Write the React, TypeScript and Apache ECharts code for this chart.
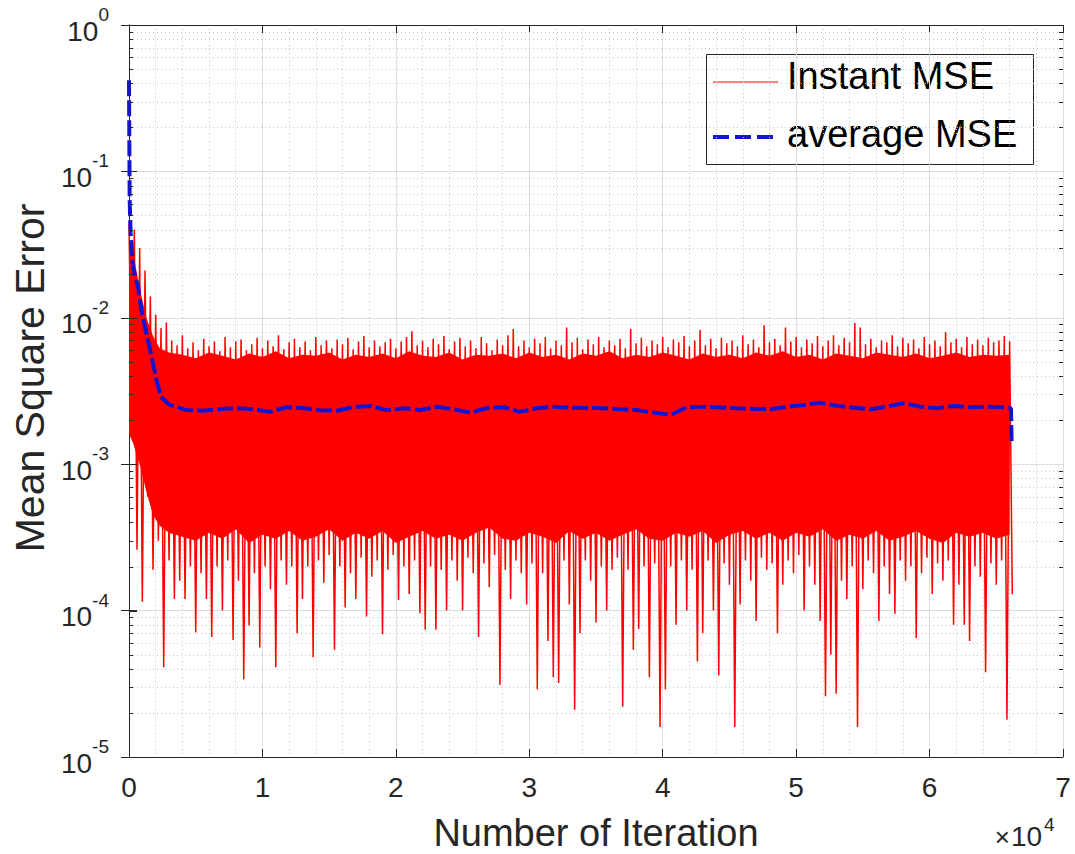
import React, { useEffect, useRef } from "react";
import * as echarts from "echarts";

// ---------- data (x in units of 10^4 iterations) ----------
const SAMPLE_STEP = 0.04; // 400 iterations between plotted samples

// Instant MSE: local peaks (upper side of the noise) per sample
const INSTANT_UP = [
  4.5e-2, 4.0e-2, 3.0e-2, 2.1e-2, 1.4e-2, 1.05e-2, 8.5e-3, 9.3e-3, 7.0e-3, 6.5e-3,
  7.6e-3, 6.2e-3, 6.8e-3, 6.0e-3, 7.2e-3, 6.4e-3, 6.9e-3, 5.9e-3, 7.4e-3, 6.3e-3,
  6.9e-3, 7.1e-3, 6.0e-3, 6.6e-3, 7.3e-3, 6.2e-3, 7.0e-3, 6.4e-3, 7.6e-3, 6.1e-3,
  6.8e-3, 7.2e-3, 6.3e-3, 6.9e-3, 6.0e-3, 7.4e-3, 6.5e-3, 7.0e-3, 6.2e-3, 7.1e-3,
  6.6e-3, 7.3e-3, 6.1e-3, 6.9e-3, 7.5e-3, 6.3e-3, 7.0e-3, 6.4e-3, 6.8e-3, 7.2e-3,
  6.2e-3, 6.9e-3, 7.4e-3, 8.1e-3, 6.5e-3, 7.0e-3, 6.3e-3, 7.2e-3, 6.6e-3, 7.5e-3,
  6.1e-3, 6.9e-3, 7.3e-3, 6.4e-3, 7.0e-3, 6.2e-3, 7.4e-3, 6.7e-3, 6.0e-3, 7.1e-3,
  6.5e-3, 7.6e-3, 8.4e-3, 6.4e-3, 7.0e-3, 6.3e-3, 7.2e-3, 6.7e-3, 7.4e-3, 6.2e-3,
  7.0e-3, 6.5e-3, 8.6e-3, 6.8e-3, 7.3e-3, 6.1e-3, 7.1e-3, 6.6e-3, 7.4e-3, 6.3e-3,
  7.0e-3, 6.5e-3, 7.2e-3, 6.2e-3, 8.4e-3, 6.7e-3, 7.3e-3, 6.4e-3, 7.0e-3, 6.6e-3,
  7.4e-3, 6.3e-3, 7.1e-3, 6.8e-3, 7.5e-3, 6.4e-3, 7.0e-3, 8.3e-3, 6.5e-3, 7.2e-3,
  6.2e-3, 7.3e-3, 6.7e-3, 7.0e-3, 6.4e-3, 7.6e-3, 6.6e-3, 7.1e-3, 6.3e-3, 8.9e-3,
  6.8e-3, 7.2e-3, 6.5e-3, 8.6e-3, 6.9e-3, 7.4e-3, 6.3e-3, 7.1e-3, 6.7e-3, 7.5e-3,
  6.4e-3, 7.0e-3, 7.6e-3, 6.5e-3, 7.3e-3, 6.8e-3, 9.2e-3, 8.6e-3, 6.6e-3, 7.2e-3,
  6.3e-3, 7.0e-3, 6.8e-3, 7.6e-3, 6.4e-3, 7.3e-3, 6.7e-3, 7.1e-3, 6.2e-3, 7.4e-3,
  6.6e-3, 7.0e-3, 6.4e-3, 8.0e-3, 6.8e-3, 7.2e-3, 6.3e-3, 7.4e-3, 6.6e-3, 7.1e-3,
  6.5e-3, 7.3e-3, 6.8e-3, 7.0e-3, 7.5e-3, 6.9e-3,
];

// Instant MSE: local dips (lower side of the noise) per sample
const INSTANT_LOW = [
  2.0e-3, 2.6e-4, 1.15e-4, 6.0e-4, 1.9e-4, 3.0e-4, 4.1e-5, 2.2e-4, 1.2e-4, 1.6e-4,
  1.2e-4, 2.0e-4, 7.1e-5, 1.8e-4, 1.2e-4, 6.6e-5, 2.0e-4, 1.0e-4, 2.2e-4, 6.3e-5,
  1.6e-4, 3.4e-5, 7.9e-5, 1.8e-4, 5.6e-5, 2.0e-4, 1.4e-4, 4.1e-5, 2.2e-4, 1.5e-4,
  2.0e-4, 7.0e-5, 1.2e-4, 2.0e-4, 4.8e-5, 2.2e-4, 1.55e-4, 2.4e-4, 5.4e-5, 2.0e-4,
  1.05e-4, 1.8e-4, 1.2e-4, 2.3e-4, 9.1e-5, 1.7e-4, 2.2e-4, 6.9e-5, 1.9e-4, 2.4e-4,
  1.18e-4, 2.0e-4, 1.3e-4, 2.2e-4, 9.6e-5, 7.4e-5, 2.0e-4, 7.4e-5, 1.9e-4, 1.0e-4,
  2.2e-4, 1.6e-4, 1.0e-4, 2.3e-4, 1.8e-4, 6.6e-5, 2.1e-4, 1.45e-4, 2.4e-4, 3.1e-5,
  1.9e-4, 1.2e-4, 2.2e-4, 1.8e-4, 1.1e-4, 2.1e-4, 2.9e-5, 1.8e-4, 6.2e-5, 3.5e-5,
  3.2e-5, 2.2e-4, 1.1e-4, 2.1e-5, 7.0e-5, 2.2e-4, 1.6e-4, 8.3e-5, 2.0e-4, 1.0e-4,
  1.9e-4, 2.3e-4, 2.2e-5, 1.9e-4, 5.4e-5, 7.5e-5, 2.0e-4, 3.5e-5, 2.1e-4, 1.6e-5,
  2.9e-5, 2.0e-4, 8.0e-5, 2.2e-4, 1.0e-4, 1.9e-4, 4.5e-5, 7.0e-5, 2.2e-4, 1.0e-4,
  3.6e-5, 2.1e-4, 1.5e-4, 1.6e-5, 1.1e-4, 2.2e-4, 1.6e-4, 8.5e-5, 2.3e-4, 1.9e-4,
  2.1e-4, 7.0e-5, 1.5e-4, 2.2e-4, 1.8e-4, 2.4e-4, 1.0e-4, 2.0e-4, 1.5e-4, 8.5e-5,
  2.6e-5, 5.0e-5, 2.7e-5, 1.6e-4, 1.2e-4, 2.0e-4, 1.6e-5, 1.4e-4, 2.2e-4, 1.8e-4,
  8.5e-5, 2.0e-4, 1.3e-4, 9.5e-5, 2.2e-4, 1.6e-4, 2.0e-4, 6.5e-5, 1.8e-4, 2.3e-4,
  1.3e-4, 2.1e-4, 1.6e-4, 2.2e-4, 8.0e-5, 1.5e-4, 8.0e-5, 6.2e-5, 2.0e-4, 1.7e-4,
  3.8e-5, 2.1e-4, 1.5e-4, 2.2e-4, 1.8e-5, 1.3e-4,
];

// Dense core of the instant MSE trace (where the red is solid)
// transient part (explicit x)
const BAND_EARLY_X = [0, 0.03, 0.08, 0.13, 0.18, 0.23, 0.3];
const BAND_EARLY_TOP = [3.5e-2, 2.8e-2, 1.6e-2, 1.0e-2, 7.5e-3, 6.2e-3, 5.8e-3];
const BAND_EARLY_BOTTOM = [1.6e-3, 1.4e-3, 1.0e-3, 6.5e-4, 4.5e-4, 3.8e-4, 3.4e-4];
// steady part: every 0.1 (x10^4) from 0.4 to 6.6
const BAND_START = 0.4;
const BAND_STEP = 0.1;
const BAND_TOP = [
  5.6e-3, 5.3e-3, 5.8e-3, 5.5e-3, 5.2e-3, 5.7e-3, 5.4e-3, 5.9e-3, 5.3e-3, 5.6e-3,
  5.5e-3, 5.8e-3, 5.2e-3, 5.6e-3, 5.4e-3, 5.7e-3, 5.3e-3, 5.9e-3, 5.5e-3, 5.4e-3,
  5.8e-3, 5.2e-3, 5.6e-3, 5.5e-3, 5.7e-3, 5.3e-3, 5.8e-3, 5.4e-3, 5.6e-3, 5.2e-3,
  5.7e-3, 5.5e-3, 5.9e-3, 5.3e-3, 5.6e-3, 5.4e-3, 5.8e-3, 5.5e-3, 5.2e-3, 5.7e-3,
  5.4e-3, 5.6e-3, 5.3e-3, 5.8e-3, 5.5e-3, 5.9e-3, 5.4e-3, 5.6e-3, 5.2e-3, 5.7e-3,
  5.5e-3, 5.3e-3, 5.8e-3, 5.6e-3, 5.4e-3, 5.7e-3, 5.3e-3, 5.5e-3, 5.8e-3, 5.4e-3,
  5.6e-3, 5.5e-3, 5.6e-3,
];
const BAND_BOTTOM = [
  3.2e-4, 3.0e-4, 3.4e-4, 3.1e-4, 3.6e-4, 2.9e-4, 3.3e-4, 3.1e-4, 3.5e-4, 3.0e-4,
  3.2e-4, 3.6e-4, 3.0e-4, 3.4e-4, 3.1e-4, 3.5e-4, 2.9e-4, 3.2e-4, 3.5e-4, 3.1e-4,
  3.3e-4, 3.0e-4, 3.4e-4, 3.7e-4, 3.1e-4, 3.0e-4, 3.4e-4, 3.2e-4, 2.9e-4, 3.5e-4,
  3.1e-4, 3.4e-4, 3.0e-4, 3.3e-4, 3.6e-4, 3.1e-4, 3.0e-4, 3.4e-4, 3.2e-4, 3.5e-4,
  2.9e-4, 3.3e-4, 3.5e-4, 3.1e-4, 3.4e-4, 3.0e-4, 3.4e-4, 3.2e-4, 3.6e-4, 3.0e-4,
  3.3e-4, 3.1e-4, 3.5e-4, 3.0e-4, 3.2e-4, 3.5e-4, 3.1e-4, 2.9e-4, 3.4e-4, 3.2e-4,
  3.4e-4, 3.1e-4, 3.3e-4,
];

// Average MSE
const AVG_X = [
  0, 0.005, 0.012, 0.03, 0.068, 0.093, 0.13, 0.17, 0.206, 0.24, 0.305, 0.43, 0.56, 0.68,
  0.81, 0.93, 1.06, 1.18, 1.31, 1.43, 1.56, 1.68, 1.81, 1.93, 2.06, 2.18, 2.31, 2.43,
  2.56, 2.68, 2.81, 2.93, 3.06, 3.18, 3.31, 3.56, 3.81, 4.06, 4.18, 4.31, 4.56, 4.81,
  4.93, 5.06, 5.18, 5.31, 5.56, 5.68, 5.81, 5.93, 6.06, 6.18, 6.31, 6.43, 6.56, 6.61, 6.615,
];
const AVG_Y = [
  0.42, 0.064, 0.038, 0.0222, 0.0162, 0.0113, 0.0079, 0.0054, 0.00376, 0.00288, 0.00254,
  2.34e-3, 2.32e-3, 2.38e-3, 2.41e-3, 2.37e-3, 2.28e-3, 2.45e-3, 2.41e-3, 2.34e-3, 2.32e-3,
  2.45e-3, 2.5e-3, 2.34e-3, 2.41e-3, 2.34e-3, 2.47e-3, 2.37e-3, 2.25e-3, 2.41e-3, 2.45e-3,
  2.28e-3, 2.41e-3, 2.47e-3, 2.43e-3, 2.41e-3, 2.34e-3, 2.17e-3, 2.45e-3, 2.47e-3, 2.41e-3,
  2.37e-3, 2.47e-3, 2.54e-3, 2.63e-3, 2.5e-3, 2.37e-3, 2.47e-3, 2.61e-3, 2.47e-3, 2.41e-3,
  2.5e-3, 2.45e-3, 2.47e-3, 2.45e-3, 2.41e-3, 1.4e-3,
];

// Axes
const X_MAX = 7;
const Y_MIN = 1e-5;
const Y_MAX = 1;
const MINOR_MULTIPLIERS = [2, 3, 4, 5, 6, 7, 8, 9];
const DECADES = [1e-5, 1e-4, 1e-3, 1e-2, 1e-1];

const FONT = "'Liberation Sans', Arial, Helvetica, sans-serif";
const AXIS_COLOR = "#262626";
const RED = "#ff0000";
const BLUE = "#1414d0";

export default function App() {
  const ref = useRef<HTMLDivElement>(null);

  useEffect(() => {
    if (!ref.current) return;
    const chart = echarts.init(ref.current, undefined, { renderer: "svg" });

    const instantData: number[][] = [];
    INSTANT_UP.forEach((u, k) => {
      instantData.push([k * SAMPLE_STEP, u]);
      instantData.push([k * SAMPLE_STEP + SAMPLE_STEP / 2, INSTANT_LOW[k]]);
    });
    const avgData = AVG_X.map((x, i) => [x, AVG_Y[i]]);
    const bandX = [...BAND_EARLY_X, ...BAND_TOP.map((_, i) => BAND_START + i * BAND_STEP)];
    const bandTop = [...BAND_EARLY_TOP, ...BAND_TOP];
    const bandBottom = [...BAND_EARLY_BOTTOM, ...BAND_BOTTOM];
    const minorY: number[] = [];
    DECADES.forEach((d) => MINOR_MULTIPLIERS.forEach((m) => minorY.push(d * m)));
    const majorY = [...DECADES, Y_MAX];

    const crisp = (v: number) => Math.round(v) + 0.5;

    const option: any = {
      animation: false,
      backgroundColor: "#ffffff",
      grid: { left: 129, top: 25, right: 12, bottom: 97, containLabel: false },
      xAxis: [
        {
          type: "value",
          min: 0,
          max: X_MAX,
          interval: 1,
          axisLine: { show: true, lineStyle: { color: AXIS_COLOR, width: 1 } },
          axisTick: { show: true, inside: true, length: 8, lineStyle: { color: AXIS_COLOR } },
          minorTick: { show: false, splitNumber: 5 },
          minorSplitLine: { show: true, lineStyle: { color: "#c4c4c4", type: [1, 3], width: 1 } },
          splitLine: { show: true, lineStyle: { color: "#dcdcdc", width: 1 } },
          axisLabel: { fontSize: 28, color: AXIS_COLOR, fontFamily: FONT, margin: 16 },
        },
        {
          type: "value",
          position: "top",
          min: 0,
          max: X_MAX,
          interval: 1,
          axisLine: { show: true, lineStyle: { color: AXIS_COLOR, width: 1 } },
          axisTick: { show: true, inside: true, length: 8, lineStyle: { color: AXIS_COLOR } },
          axisLabel: { show: false },
          splitLine: { show: false },
        },
      ],
      yAxis: [
        {
          type: "log",
          logBase: 10,
          min: Y_MIN,
          max: Y_MAX,
          splitNumber: 5,
          axisLine: { show: true, lineStyle: { color: AXIS_COLOR, width: 1 } },
          axisTick: { show: true, inside: true, length: 8, lineStyle: { color: AXIS_COLOR } },
          splitLine: { show: true, lineStyle: { color: "#dcdcdc", width: 1 } },
          axisLabel: {
            margin: 20,
            formatter: (v: number) => `{b|10}{s|${Math.round(Math.log10(v))}}`,
            rich: {
              b: { fontSize: 28, color: AXIS_COLOR, fontFamily: FONT, lineHeight: 40, verticalAlign: "bottom" },
              s: { fontSize: 19, color: AXIS_COLOR, fontFamily: FONT, lineHeight: 40, verticalAlign: "top" },
            },
          },
        },
        {
          type: "log",
          logBase: 10,
          position: "right",
          min: Y_MIN,
          max: Y_MAX,
          splitNumber: 5,
          axisLine: { show: true, lineStyle: { color: AXIS_COLOR, width: 1 } },
          axisTick: { show: true, inside: true, length: 8, lineStyle: { color: AXIS_COLOR } },
          axisLabel: { show: false },
          splitLine: { show: false },
        },
      ],
      series: [
        {
          type: "custom",
          name: "minorGrid",
          z: 1,
          silent: true,
          data: [[0, 1e-3]],
          renderItem: (params: any, api: any) => {
            const cs = params.coordSys;
            return {
              type: "group",
              children: minorY.map((v) => {
                const y = crisp(api.coord([0, v])[1]);
                return {
                  type: "line",
                  shape: { x1: cs.x, y1: y, x2: cs.x + cs.width, y2: y },
                  style: { stroke: "#c4c4c4", lineWidth: 1, lineDash: [1, 3] },
                };
              }),
            };
          },
        },
        {
          type: "custom",
          name: "band",
          z: 3,
          silent: true,
          data: [[0, 1e-3]],
          renderItem: (params: any, api: any) => {
            const pts: number[][] = [];
            bandX.forEach((x, i) => pts.push(api.coord([x, bandTop[i]])));
            for (let i = bandX.length - 1; i >= 0; i--) pts.push(api.coord([bandX[i], bandBottom[i]]));
            return { type: "polygon", shape: { points: pts }, style: { fill: RED } };
          },
        },
        {
          type: "line",
          name: "Instant MSE",
          z: 4,
          data: instantData,
          showSymbol: false,
          symbol: "none",
          silent: true,
          lineStyle: { color: RED, width: 1.5 },
        },
        {
          type: "line",
          name: "average MSE",
          z: 5,
          data: avgData,
          showSymbol: false,
          symbol: "none",
          silent: true,
          lineStyle: { color: BLUE, width: 4, type: [16, 4] },
        },
        {
          type: "custom",
          name: "minorTicks",
          z: 10,
          silent: true,
          data: [[0, 1e-3]],
          renderItem: (params: any, api: any) => {
            const cs = params.coordSys;
            const children: any[] = [];
            minorY.forEach((v) => {
              const y = crisp(api.coord([0, v])[1]);
              children.push({ type: "line", shape: { x1: cs.x, y1: y, x2: cs.x + 4, y2: y }, style: { stroke: AXIS_COLOR, lineWidth: 1 } });
              children.push({ type: "line", shape: { x1: cs.x + cs.width - 4, y1: y, x2: cs.x + cs.width, y2: y }, style: { stroke: AXIS_COLOR, lineWidth: 1 } });
            });
            majorY.forEach((v) => {
              const y = crisp(api.coord([0, v])[1]);
              children.push({ type: "line", shape: { x1: cs.x, y1: y, x2: cs.x + 8, y2: y }, style: { stroke: AXIS_COLOR, lineWidth: 1 } });
            });
            return { type: "group", children };
          },
        },
      ],
      graphic: [
        {
          type: "text",
          x: 596,
          y: 833,
          style: { text: "Number of Iteration", fontSize: 38, fontFamily: FONT, fill: AXIS_COLOR, align: "center", verticalAlign: "middle" },
        },
        {
          type: "text",
          x: 30,
          y: 378,
          rotation: Math.PI / 2,
          style: { text: "Mean Square Error", fontSize: 41, fontFamily: FONT, fill: AXIS_COLOR, align: "center", verticalAlign: "middle" },
        },
        { type: "text", x: 1010, y: 837, style: { text: "×", fontSize: 26, fontFamily: FONT, fill: AXIS_COLOR, align: "right", verticalAlign: "middle" } },
        { type: "text", x: 1011, y: 836, style: { text: "10", fontSize: 28, fontFamily: FONT, fill: AXIS_COLOR, align: "left", verticalAlign: "middle" } },
        { type: "text", x: 1044, y: 824, style: { text: "4", fontSize: 19, fontFamily: FONT, fill: AXIS_COLOR, align: "left", verticalAlign: "middle" } },
        {
          type: "group",
          z: 100,
          children: [
            { type: "rect", shape: { x: 706.5, y: 54.5, width: 327, height: 110 }, style: { fill: "#ffffff", stroke: AXIS_COLOR, lineWidth: 1 } },
            { type: "line", shape: { x1: 713, y1: 82, x2: 778, y2: 82 }, style: { stroke: RED, lineWidth: 1 } },
            { type: "text", x: 787, y: 76, style: { text: "Instant MSE", fontSize: 38, fontFamily: FONT, fill: "#000000", verticalAlign: "middle" } },
            { type: "line", shape: { x1: 713, y1: 137, x2: 778, y2: 137 }, style: { stroke: BLUE, lineWidth: 4, lineDash: [16, 6] } },
            { type: "text", x: 787, y: 134, style: { text: "average MSE", fontSize: 38, fontFamily: FONT, fill: "#000000", verticalAlign: "middle" } },
          ],
        },
      ],
    };

    chart.setOption(option);
    return () => chart.dispose();
  }, []);

  return (
    <div
      ref={ref}
      style={{ position: "absolute", left: 0, top: 0, width: 1075, height: 854, background: "#fff" }}
    />
  );
}
